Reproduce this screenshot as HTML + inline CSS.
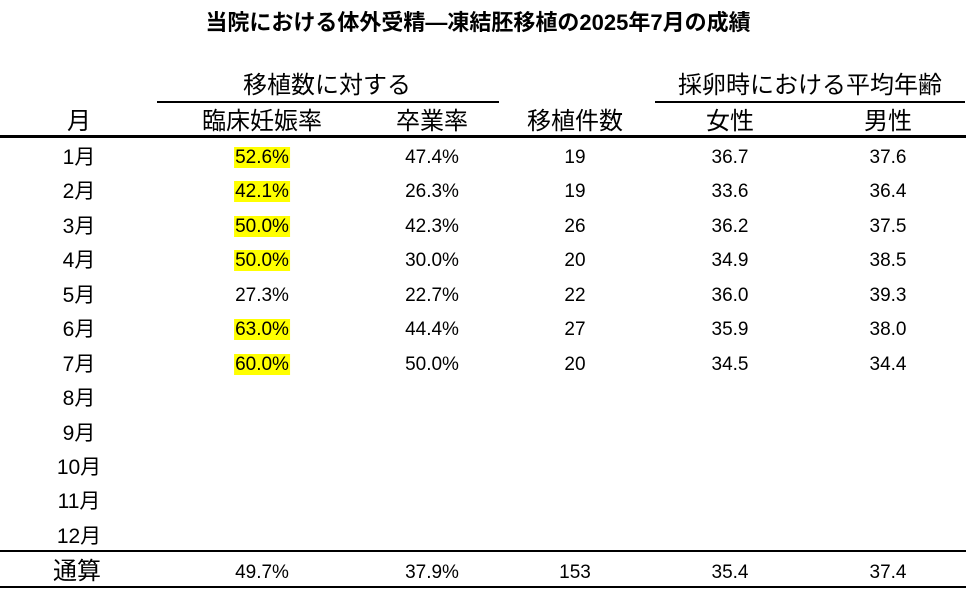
<!DOCTYPE html>
<html><head><meta charset="utf-8"><style>
body{margin:0;width:968px;height:601px;background:#fff;position:relative;overflow:hidden;font-family:"Liberation Sans","Noto Sans CJK JP",sans-serif;color:#000}
.t{position:absolute;transform:translate(-50%,-50%);white-space:nowrap;font-size:19px;line-height:24px}
.h{font-size:24px;line-height:28px}
.m{font-size:21px}
.y{background:#ff0;padding:0 1px}
.l{position:absolute;background:#000}
</style></head><body>
<div class="t" style="left:478px;top:23px;font-size:22px;font-weight:bold">当院における体外受精—凍結胚移植の2025年7月の成績</div>
<div class="t h" style="left:327px;top:86px">移植数に対する</div>
<div class="t h" style="left:810px;top:86px">採卵時における平均年齢</div>
<div class="l" style="left:157px;top:101px;width:342px;height:2px"></div>
<div class="l" style="left:655px;top:101px;width:310px;height:2px"></div>
<div class="t h" style="left:79px;top:122px">月</div>
<div class="t h" style="left:262px;top:122px">臨床妊娠率</div>
<div class="t h" style="left:432px;top:122px">卒業率</div>
<div class="t h" style="left:575px;top:122px">移植件数</div>
<div class="t h" style="left:730px;top:122px">女性</div>
<div class="t h" style="left:888px;top:122px">男性</div>
<div class="l" style="left:0;top:135px;width:966px;height:3px"></div>

<div class="t m" style="left:79px;top:158px">1月</div><div class="t" style="left:262px;top:158px"><span class="y">52.6%</span></div><div class="t" style="left:432px;top:158px">47.4%</div><div class="t" style="left:575px;top:158px">19</div><div class="t" style="left:730px;top:158px">36.7</div><div class="t" style="left:888px;top:158px">37.6</div>
<div class="t m" style="left:79px;top:192px">2月</div><div class="t" style="left:262px;top:192px"><span class="y">42.1%</span></div><div class="t" style="left:432px;top:192px">26.3%</div><div class="t" style="left:575px;top:192px">19</div><div class="t" style="left:730px;top:192px">33.6</div><div class="t" style="left:888px;top:192px">36.4</div>
<div class="t m" style="left:79px;top:227px">3月</div><div class="t" style="left:262px;top:227px"><span class="y">50.0%</span></div><div class="t" style="left:432px;top:227px">42.3%</div><div class="t" style="left:575px;top:227px">26</div><div class="t" style="left:730px;top:227px">36.2</div><div class="t" style="left:888px;top:227px">37.5</div>
<div class="t m" style="left:79px;top:261px">4月</div><div class="t" style="left:262px;top:261px"><span class="y">50.0%</span></div><div class="t" style="left:432px;top:261px">30.0%</div><div class="t" style="left:575px;top:261px">20</div><div class="t" style="left:730px;top:261px">34.9</div><div class="t" style="left:888px;top:261px">38.5</div>
<div class="t m" style="left:79px;top:296px">5月</div><div class="t" style="left:262px;top:296px">27.3%</div><div class="t" style="left:432px;top:296px">22.7%</div><div class="t" style="left:575px;top:296px">22</div><div class="t" style="left:730px;top:296px">36.0</div><div class="t" style="left:888px;top:296px">39.3</div>
<div class="t m" style="left:79px;top:330px">6月</div><div class="t" style="left:262px;top:330px"><span class="y">63.0%</span></div><div class="t" style="left:432px;top:330px">44.4%</div><div class="t" style="left:575px;top:330px">27</div><div class="t" style="left:730px;top:330px">35.9</div><div class="t" style="left:888px;top:330px">38.0</div>
<div class="t m" style="left:79px;top:365px">7月</div><div class="t" style="left:262px;top:365px"><span class="y">60.0%</span></div><div class="t" style="left:432px;top:365px">50.0%</div><div class="t" style="left:575px;top:365px">20</div><div class="t" style="left:730px;top:365px">34.5</div><div class="t" style="left:888px;top:365px">34.4</div>
<div class="t m" style="left:79px;top:399px">8月</div>
<div class="t m" style="left:79px;top:434px">9月</div>
<div class="t m" style="left:79px;top:468px">10月</div>
<div class="t m" style="left:79px;top:502px">11月</div>
<div class="t m" style="left:79px;top:537px">12月</div>
<div class="l" style="left:0;top:550px;width:966px;height:2px"></div>
<div class="t h" style="left:77px;top:572px">通算</div><div class="t" style="left:262px;top:573px">49.7%</div><div class="t" style="left:432px;top:573px">37.9%</div><div class="t" style="left:575px;top:573px">153</div><div class="t" style="left:730px;top:573px">35.4</div><div class="t" style="left:888px;top:573px">37.4</div>
<div class="l" style="left:0;top:586px;width:966px;height:2px"></div>
</body></html>
